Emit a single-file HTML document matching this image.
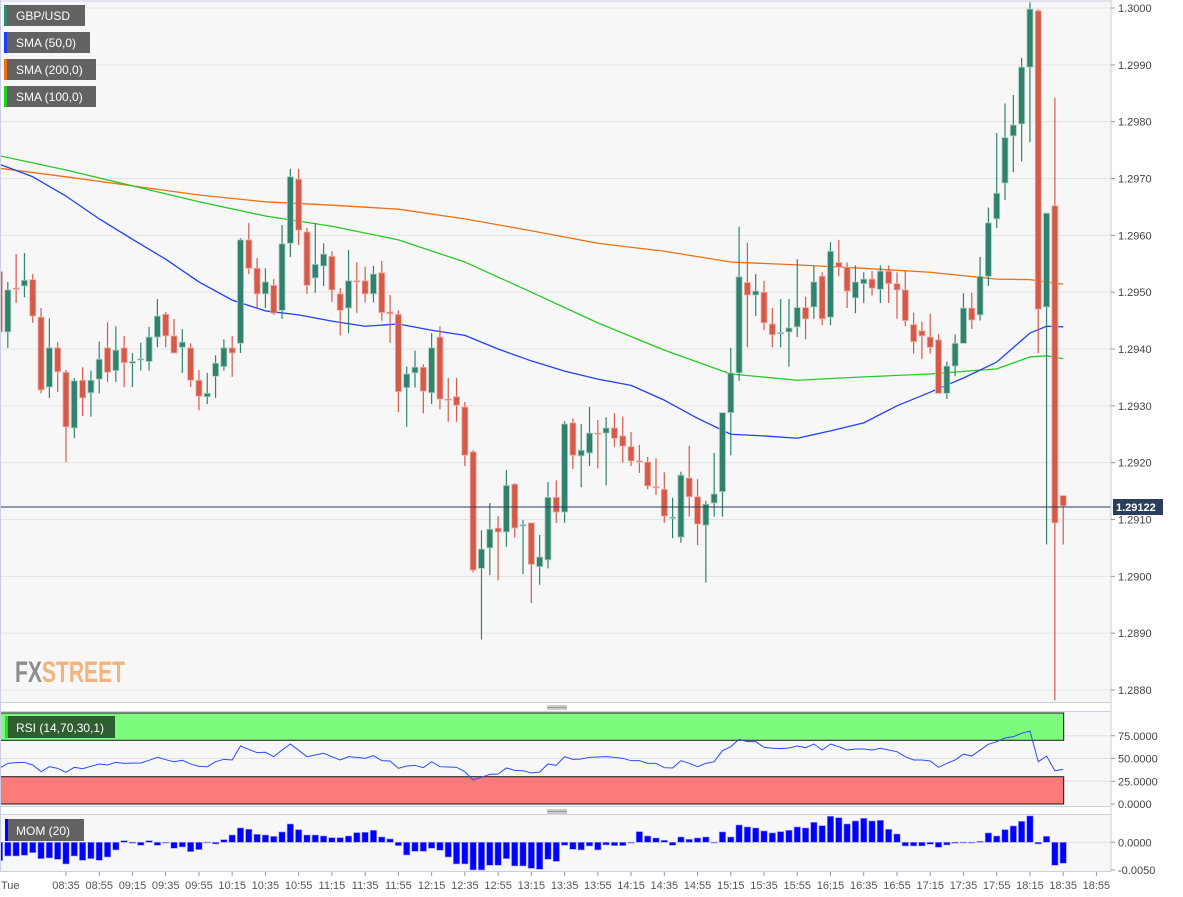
<!DOCTYPE html>
<html><head><meta charset="utf-8"><style>
html,body{margin:0;padding:0;background:#fff;}
svg{display:block;font-family:"Liberation Sans",sans-serif;}
</style></head><body>
<svg id="chart" width="1183" height="897" viewBox="0 0 1183 897" xmlns="http://www.w3.org/2000/svg">
<rect x="0" y="0" width="1183" height="897" fill="#ffffff"/>
<rect x="0" y="1" width="1111" height="701" fill="#f7f7f7"/>
<rect x="0" y="712" width="1111" height="94" fill="#f7f7f7"/>
<rect x="0" y="815" width="1111" height="56" fill="#f7f7f7"/>
<g id="grid"></g>
<g id="bands"></g>
<g id="smas"></g>
<g id="candles"></g>
<g id="rsi"></g>
<g id="mom"></g>
<g id="axes"></g>
<g>
<text x="15" y="682" font-size="30" font-weight="bold" textLength="110" lengthAdjust="spacingAndGlyphs" font-family="'Liberation Sans Narrow','Liberation Sans',sans-serif" fill="#8c8c8c">FX<tspan fill="#f2b37c">STREET</tspan></text>
</g>
<g>
<g><rect x="4" y="5" width="81" height="21" fill="#626262"/><rect x="4" y="5" width="3" height="21" fill="#2f8a6f"/><text x="16" y="20" font-size="12" fill="#fff">GBP/USD</text></g>
<g><rect x="4" y="32" width="86" height="21" fill="#626262"/><rect x="4" y="32" width="3" height="21" fill="#1a3cff"/><text x="16" y="47" font-size="12" fill="#fff">SMA (50,0)</text></g>
<g><rect x="4" y="59" width="92" height="21" fill="#626262"/><rect x="4" y="59" width="3" height="21" fill="#f07010"/><text x="16" y="74" font-size="12" fill="#fff">SMA (200,0)</text></g>
<g><rect x="4" y="86" width="92" height="21" fill="#626262"/><rect x="4" y="86" width="3" height="21" fill="#20d020"/><text x="16" y="101" font-size="12" fill="#fff">SMA (100,0)</text></g>
<g><rect x="5" y="716" width="110" height="22" fill="#2f5f30"/><rect x="5" y="716" width="3" height="22" fill="#20e020"/><text x="16" y="732" font-size="12" fill="#fff">RSI (14,70,30,1)</text></g>
<g><rect x="5" y="819" width="79" height="22" fill="#626262"/><rect x="5" y="819" width="3" height="22" fill="#0000ff"/><text x="16" y="835" font-size="12" fill="#fff">MOM (20)</text></g>
</g>
</svg>
<script>
const opens=[1.29536,1.29430,1.29507,1.29511,1.29522,1.29456,1.29333,1.29402,1.29359,1.29261,1.29345,1.29323,1.29347,1.29402,1.29362,1.29402,1.29375,1.29381,1.29378,1.29421,1.29461,1.29423,1.29403,1.29402,1.29345,1.29316,1.29352,1.29369,1.29402,1.29410,1.29592,1.29542,1.29497,1.29512,1.29468,1.29586,1.29699,1.29606,1.29525,1.29546,1.29563,1.29497,1.29472,1.29520,1.29520,1.29497,1.29534,1.29465,1.29461,1.29332,1.29358,1.29368,1.29323,1.29421,1.29312,1.29316,1.29298,1.29219,1.29014,1.29050,1.29085,1.29078,1.29162,1.29090,1.29094,1.29017,1.29029,1.29139,1.29113,1.29270,1.29212,1.29217,1.29252,1.29252,1.29261,1.29247,1.29228,1.29203,1.29201,1.29158,1.29153,1.29103,1.29069,1.29173,1.29140,1.29090,1.29129,1.29149,1.29288,1.29358,1.29517,1.29495,1.29500,1.29444,1.29428,1.29430,1.29439,1.29473,1.29474,1.29528,1.29456,1.29552,1.29544,1.29490,1.29515,1.29523,1.29505,1.29537,1.29515,1.29504,1.29443,1.29432,1.29421,1.29416,1.29322,1.29370,1.29410,1.29472,1.29460,1.29528,1.29629,1.29692,1.29775,1.29796,1.29896,1.29995,1.29474,1.29652,1.29142];
const highs=[1.29539,1.29518,1.29567,1.29569,1.29532,1.29472,1.29454,1.29412,1.29363,1.29349,1.29368,1.29362,1.29413,1.29447,1.29440,1.29423,1.29393,1.29411,1.29439,1.29488,1.29465,1.29453,1.29435,1.29410,1.29363,1.29358,1.29389,1.29417,1.29423,1.29595,1.29622,1.29560,1.29542,1.29523,1.29618,1.29717,1.29717,1.29613,1.29622,1.29586,1.29572,1.29507,1.29574,1.29553,1.29545,1.29546,1.29555,1.29495,1.29468,1.29369,1.29397,1.29373,1.29428,1.29440,1.29349,1.29349,1.29307,1.29222,1.29081,1.29129,1.29106,1.29187,1.29164,1.29099,1.29094,1.29073,1.29166,1.29169,1.29273,1.29278,1.29268,1.29298,1.29275,1.29280,1.29287,1.29281,1.29254,1.29231,1.29210,1.29208,1.29183,1.29138,1.29184,1.29230,1.29171,1.29133,1.29217,1.29288,1.29402,1.29615,1.29587,1.29532,1.29520,1.29472,1.29488,1.29488,1.29558,1.29492,1.29546,1.29535,1.29588,1.29592,1.29552,1.29547,1.29535,1.29537,1.29547,1.29547,1.29535,1.29539,1.29464,1.29448,1.29462,1.29426,1.29378,1.29426,1.29498,1.29499,1.29562,1.29649,1.29780,1.29832,1.29847,1.29912,1.30010,1.29998,1.29639,1.29842,1.29142];
const lows=[1.29413,1.29402,1.29481,1.29491,1.29446,1.29322,1.29314,1.29324,1.29201,1.29243,1.29282,1.29281,1.29322,1.29342,1.29342,1.29333,1.29333,1.29362,1.29362,1.29403,1.29403,1.29393,1.29358,1.29333,1.29292,1.29303,1.29314,1.29362,1.29351,1.29393,1.29532,1.29472,1.29472,1.29460,1.29453,1.29562,1.29583,1.29497,1.29499,1.29511,1.29483,1.29424,1.29428,1.29463,1.29482,1.29482,1.29450,1.29411,1.29289,1.29263,1.29332,1.29287,1.29303,1.29294,1.29272,1.29272,1.29194,1.29007,1.28889,1.29002,1.28993,1.29052,1.29068,1.29004,1.28953,1.28985,1.29014,1.29094,1.29094,1.29189,1.29157,1.29194,1.29190,1.29160,1.29228,1.29200,1.29194,1.29182,1.29153,1.29143,1.29094,1.29067,1.29059,1.29105,1.29055,1.28989,1.29105,1.29105,1.29213,1.29344,1.29403,1.29458,1.29433,1.29403,1.29403,1.29369,1.29421,1.29417,1.29453,1.29442,1.29442,1.29528,1.29472,1.29463,1.29481,1.29494,1.29481,1.29481,1.29453,1.29440,1.29392,1.29382,1.29392,1.29322,1.29312,1.29352,1.29410,1.29435,1.29450,1.29511,1.29613,1.29662,1.29711,1.29730,1.29764,1.29393,1.29056,1.28782,1.29056];
const closes=[1.29430,1.29504,1.29506,1.29521,1.29458,1.29328,1.29402,1.29360,1.29263,1.29344,1.29314,1.29345,1.29382,1.29359,1.29398,1.29376,1.29378,1.29383,1.29421,1.29458,1.29423,1.29393,1.29412,1.29345,1.29317,1.29322,1.29375,1.29402,1.29393,1.29592,1.29542,1.29497,1.29518,1.29463,1.29585,1.29703,1.29609,1.29512,1.29549,1.29567,1.29504,1.29468,1.29520,1.29518,1.29497,1.29532,1.29464,1.29462,1.29325,1.29356,1.29368,1.29326,1.29402,1.29312,1.29311,1.29301,1.29213,1.29011,1.29048,1.29083,1.29078,1.29160,1.29085,1.29091,1.29021,1.29034,1.29139,1.29113,1.29268,1.29213,1.29222,1.29252,1.29251,1.29261,1.29243,1.29229,1.29203,1.29202,1.29159,1.29156,1.29106,1.29104,1.29178,1.29140,1.29092,1.29127,1.29145,1.29288,1.29358,1.29527,1.29495,1.29502,1.29446,1.29425,1.29429,1.29437,1.29473,1.29453,1.29518,1.29453,1.29572,1.29544,1.29502,1.29518,1.29523,1.29507,1.29537,1.29515,1.29504,1.29450,1.29413,1.29423,1.29403,1.29322,1.29370,1.29410,1.29472,1.29451,1.29528,1.29622,1.29674,1.29772,1.29794,1.29896,1.29998,1.29470,1.29639,1.29094,1.29124];
const sma50Idx=[0,4,8,12,16,20,24,28,32,36,40,44,48,52,56,60,64,68,72,76,80,84,88,92,96,100,104,108,112,116,120,124,126,128];
const sma50=[1.29725,1.29703,1.29669,1.29629,1.29593,1.29558,1.29518,1.29486,1.29467,1.29460,1.29449,1.29440,1.29444,1.29433,1.29424,1.29400,1.29379,1.29361,1.29347,1.29336,1.29310,1.29278,1.29250,1.29247,1.29243,1.29256,1.29270,1.29300,1.29324,1.29349,1.29377,1.29428,1.29440,1.29439];
const smaIdx=[0,8,16,24,32,40,48,56,64,72,80,88,96,104,112,120,124,126,128];
const sma200=[1.29718,1.29703,1.29687,1.29671,1.29659,1.29653,1.29646,1.29629,1.29608,1.29586,1.29572,1.29553,1.29548,1.29542,1.29535,1.29523,1.29522,1.29518,1.29514];
const sma100=[1.29740,1.29715,1.29687,1.29659,1.29634,1.29616,1.29592,1.29553,1.29500,1.29446,1.29398,1.29356,1.29345,1.29351,1.29356,1.29365,1.29386,1.29388,1.29383];
const rsiVals=[39.2,44.7,45.4,45.8,42.9,35.5,41.0,39.2,34.8,40.3,38.8,41.4,44.0,42.9,45.8,44.7,44.9,45.1,48.0,51.3,48.7,46.5,48.0,44.0,41.4,41.0,46.5,49.1,48.4,63.7,60.1,56.4,56.8,52.0,59.3,65.9,59.0,52.0,53.8,55.7,52.0,48.4,52.0,51.3,50.2,53.1,47.6,47.3,39.2,41.8,42.5,39.9,46.5,41.0,40.7,40.3,35.5,26.4,29.3,32.6,33.0,39.6,37.0,36.6,34.1,35.2,44.0,42.5,52.0,49.1,49.5,51.3,51.6,52.0,51.3,50.2,47.6,47.6,44.7,44.7,39.9,39.6,47.6,44.7,41.0,44.7,46.5,58.6,63.0,71.1,68.5,68.5,62.3,61.2,60.8,61.5,63.7,61.9,65.9,59.3,65.9,63.0,59.3,60.4,60.4,59.3,61.2,59.3,57.5,52.0,48.4,48.4,47.3,40.3,44.7,48.4,54.9,52.7,59.3,65.6,68.5,72.5,74.0,77.7,80.2,46.5,52.7,36.6,38.1];
const momVals=[-0.00331,-0.00247,-0.00247,-0.00235,-0.00187,-0.00295,-0.00283,-0.00307,-0.00391,-0.00247,-0.00325,-0.00295,-0.00325,-0.00265,-0.00138,0.00030,-0.00018,-0.00054,0.00030,-0.00054,-0.00005,-0.00108,-0.00084,-0.00169,-0.00132,0.00003,-0.00030,0.00048,0.00132,0.00259,0.00235,0.00144,0.00132,0.00108,0.00187,0.00331,0.00229,0.00132,0.00132,0.00114,0.00084,0.00084,0.00114,0.00175,0.00181,0.00217,0.00096,0.00060,-0.00060,-0.00229,-0.00163,-0.00163,-0.00108,-0.00144,-0.00265,-0.00391,-0.00391,-0.00500,-0.00500,-0.00415,-0.00415,-0.00295,-0.00427,-0.00427,-0.00470,-0.00488,-0.00307,-0.00345,-0.00054,-0.00126,-0.00138,-0.00066,-0.00138,-0.00048,-0.00060,-0.00060,-0.00006,0.00193,0.00114,0.00078,0.00036,-0.00054,0.00096,0.00054,0.00078,0.00096,0.00002,0.00187,0.00096,0.00313,0.00277,0.00259,0.00205,0.00169,0.00193,0.00217,0.00277,0.00259,0.00361,0.00301,0.00470,0.00445,0.00331,0.00385,0.00433,0.00385,0.00397,0.00235,0.00150,-0.00066,-0.00066,-0.00066,-0.00036,-0.00090,-0.00048,-0.00018,0.00002,0.00001,0.00018,0.00169,0.00114,0.00229,0.00295,0.00379,0.00476,-0.00030,0.00108,-0.00415,-0.00379];
const priceTicks=[1.2880,1.2890,1.2900,1.2910,1.2920,1.2930,1.2940,1.2950,1.2960,1.2970,1.2980,1.2990,1.3000];
const rsiTicks=[75,50,25,0];
const momTicks=[0,-0.005];
const timeLabels=["08:35","08:55","09:15","09:35","09:55","10:15","10:35","10:55","11:15","11:35","11:55","12:15","12:35","12:55","13:15","13:35","13:55","14:15","14:35","14:55","15:15","15:35","15:55","16:15","16:35","16:55","17:15","17:35","17:55","18:15","18:35","18:55"];
const lastPrice=1.29122;

const NS="http://www.w3.org/2000/svg";
const xs=i=>8.31*i-0.5;
const yp=p=>8+(1.3-p)*56833;
const yr=v=>804-0.91*v;
const ym=v=>842.3-v*5540;
function mk(tag,attrs,parent){const e=document.createElementNS(NS,tag);for(const k in attrs)e.setAttribute(k,attrs[k]);parent.appendChild(e);return e;}
const G=id=>document.getElementById(id);

const grid=G('grid');
priceTicks.forEach(p=>{const l=mk('line',{x1:0,x2:1111,y1:yp(p),y2:yp(p),stroke:'#e4e4e4','stroke-width':1},grid);

});
[75,50,25].forEach(v=>{const l=mk('line',{x1:0,x2:1111,y1:yr(v),y2:yr(v),stroke:'#e0e0e0','stroke-width':1},grid);

});
{const l=mk('line',{x1:0,x2:1111,y1:ym(0),y2:ym(0),stroke:'#e0e0e0'},grid);

}

const bands=G('bands');const bx=xs(128)+0.5;
{const r=mk('rect',{x:0,y:yr(100),width:bx,height:yr(70)-yr(100),fill:'#7cfb7c',stroke:'#1a1a1a','stroke-width':1},bands);


const r2=mk('rect',{x:0,y:yr(30),width:bx,height:yr(0)-yr(30),fill:'#fb7b7b',stroke:'#1a1a1a','stroke-width':1},bands);

}

const smas=G('smas');
function line(idx,vals,color,name){const pts=idx.map((i,k)=>xs(i)+','+yp(vals[k])).join(' ');
const pl=mk('polyline',{points:pts,fill:'none',stroke:color,'stroke-width':1.3,'stroke-linejoin':'round'},smas);

}
line(smaIdx,sma200,'#f07010','sma-200-line');
line(smaIdx,sma100,'#22cc22','sma-100-line');
line(sma50Idx,sma50,'#2040ff','sma-50-line');

const cg=G('candles');
opens.forEach((o,i)=>{const c=closes[i];const up=c>=o;const col=up?'#31826c':'#d65a4a';const x=xs(i);
const g=mk('g',{},cg);


mk('line',{x1:x,x2:x,y1:yp(highs[i]),y2:yp(lows[i]),stroke:col,'stroke-width':1.2},g);
const t=Math.min(yp(o),yp(c));const h=Math.max(1.2,Math.abs(yp(o)-yp(c)));
mk('rect',{x:x-3,y:t,width:6,height:h,fill:col,stroke:up?'#a8cfc2':'#f0b0a8','stroke-width':0.8},g);});

const ax=G('axes');
{const l=mk('line',{x1:0,x2:1111,y1:yp(lastPrice),y2:yp(lastPrice),stroke:'#2c3e5c','stroke-width':1},ax);

}

{const pts=rsiVals.map((v,i)=>xs(i)+','+yr(v)).join(' ');
const pl=mk('polyline',{points:pts,fill:'none',stroke:'#2a4cff','stroke-width':1},G('rsi'));

}

const mg=G('mom');
momVals.forEach((v,i)=>{const y0=ym(0),y1=ym(v);
const r=mk('rect',{x:xs(i)-3.2,y:Math.min(y0,y1),width:6.4,height:Math.max(0.8,Math.abs(y1-y0)),fill:'#0000ff',stroke:'#9a9aff','stroke-width':0.6},mg);

});

mk('line',{x1:1111,x2:1111,y1:0,y2:872,stroke:'#c8cfe0'},ax);
mk('line',{x1:0,x2:1111,y1:1,y2:1,stroke:'#c8cfe0'},ax);
mk('line',{x1:0,x2:1111,y1:702.5,y2:702.5,stroke:'#c8cfe0'},ax);
mk('line',{x1:0,x2:1111,y1:711.5,y2:711.5,stroke:'#c8cfe0'},ax);
mk('line',{x1:0,x2:1111,y1:806.5,y2:806.5,stroke:'#c8cfe0'},ax);
mk('line',{x1:0,x2:1111,y1:814.5,y2:814.5,stroke:'#c8cfe0'},ax);
mk('line',{x1:0,x2:1111,y1:871.5,y2:871.5,stroke:'#c8cfe0'},ax);
mk('line',{x1:0.5,x2:0.5,y1:0,y2:872,stroke:'#c8cfe0'},ax);
[[557,706],[557,810]].forEach(([x,y])=>{for(let k=0;k<3;k++)mk('line',{x1:x-10,x2:x+10,y1:y+k*1.5,y2:y+k*1.5,stroke:'#777','stroke-width':0.7},ax);});
priceTicks.forEach(p=>{mk('line',{x1:1111,x2:1115,y1:yp(p),y2:yp(p),stroke:'#999'},ax);
const t=mk('text',{x:1118,y:yp(p)+4,'font-size':11,fill:'#444'},ax);t.textContent=p.toFixed(4);

});
rsiTicks.forEach(v=>{mk('line',{x1:1111,x2:1115,y1:yr(v),y2:yr(v),stroke:'#999'},ax);
const t=mk('text',{x:1118,y:yr(v)+4,'font-size':11,fill:'#444'},ax);t.textContent=v.toFixed(4);

});
momTicks.forEach(v=>{mk('line',{x1:1111,x2:1115,y1:ym(v),y2:ym(v),stroke:'#999'},ax);
const t=mk('text',{x:1118,y:ym(v)+4,'font-size':11,fill:'#444'},ax);t.textContent=v.toFixed(4);

});
timeLabels.forEach((s,k)=>{const x=xs(8+4*k);mk('line',{x1:x,x2:x,y1:872,y2:876,stroke:'#999'},ax);
const t=mk('text',{x:x,y:889,'font-size':11,fill:'#555','text-anchor':'middle'},ax);t.textContent=s;

});
{const t=mk('text',{x:1,y:889,'font-size':11,fill:'#555'},ax);t.textContent='Tue';

}
{const g=mk('g',{},ax);


mk('rect',{x:1113,y:yp(lastPrice)-8,width:50,height:16,fill:'#2c3e5c'},g);
const t=mk('text',{x:1116,y:yp(lastPrice)+4,'font-size':11,'font-weight':'bold',fill:'#fff'},g);t.textContent=lastPrice.toFixed(5);}
</script>
</body></html>
